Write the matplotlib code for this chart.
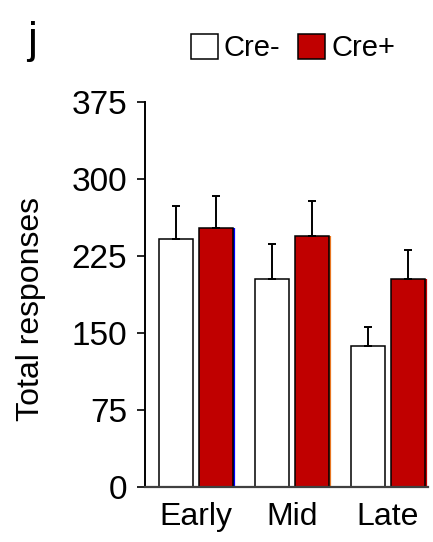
import numpy as np
import matplotlib.pyplot as plt
from matplotlib.patches import Patch

plt.rcParams['font.family'] = ['Liberation Sans', 'DejaVu Sans']

# total responses per session block (mean, SEM)
phases = ['Early', 'Mid', 'Late']
cre_neg = [242, 203, 137]
cre_neg_sem = [32, 34, 19]
cre_pos = [252, 244, 203]
cre_pos_sem = [31, 35, 28]
edge_marks = ['#0000ff', '#e87722', '#c00000']

red = '#c00000'

fig = plt.figure(figsize=(4.33, 5.42), dpi=100)
ax = fig.add_axes([145 / 433, 1 - 487 / 542, (428 - 145) / 433, (487 - 102) / 542])

x = np.arange(len(phases))
w = 0.354
off = 0.208

b1 = ax.bar(x - off, cre_neg, w, color='white', edgecolor='black', linewidth=1.1, zorder=2)
b2 = ax.bar(x + off, cre_pos, w, color=red, edgecolor='black', linewidth=1.1, zorder=2)

# upper-only error bars
ax.errorbar(x - off, cre_neg, yerr=[np.zeros(3), cre_neg_sem], fmt='none',
            ecolor='black', elinewidth=1.4, capsize=2.9, capthick=1.4, zorder=3)
ax.errorbar(x + off, cre_pos, yerr=[np.zeros(3), cre_pos_sem], fmt='none',
            ecolor='black', elinewidth=1.4, capsize=2.9, capthick=1.4, zorder=3)

# thin coloured strip along the right side of each Cre+ bar
for xi, h, c in zip(x, cre_pos, edge_marks):
    ax.vlines(xi + off + w / 2 + 0.012, 0, h, colors=c, linewidth=1.6, zorder=1)

ax.set_xlim(-0.531, 2.417)
ax.set_ylim(0, 375)
ax.set_yticks([0, 75, 150, 225, 300, 375])
ax.set_xticks(x)
ax.set_xticklabels(phases)

for s in ['top', 'right']:
    ax.spines[s].set_visible(False)
ax.spines['left'].set_linewidth(1.4)
ax.spines['bottom'].set_linewidth(1.6)
ax.spines['bottom'].set_color('#404040')

ax.tick_params(axis='y', length=6, width=1.2, pad=7, labelsize=24, direction='out')
ax.tick_params(axis='x', length=0, pad=11, labelsize=23)

fig.text(31 / 433, 1 - 309 / 542, 'Total responses', rotation=90,
         ha='center', va='center', fontsize=23)
fig.text(32 / 433, 1 - 41 / 542, 'j', ha='center', va='center', fontsize=32)

handles = [Patch(facecolor='white', edgecolor='black', linewidth=1.1),
           Patch(facecolor=red, edgecolor='black', linewidth=1.1)]
fig.legend(handles, ['Cre-', 'Cre+'], loc='center left',
           bbox_to_anchor=(191 / 433, 1 - 48 / 542), ncol=2, frameon=False,
           fontsize=21, handlelength=0.93, handleheight=0.93,
           handletextpad=0.2, columnspacing=0.6, borderpad=0, borderaxespad=0)

fig.savefig('out.png', dpi=100)
